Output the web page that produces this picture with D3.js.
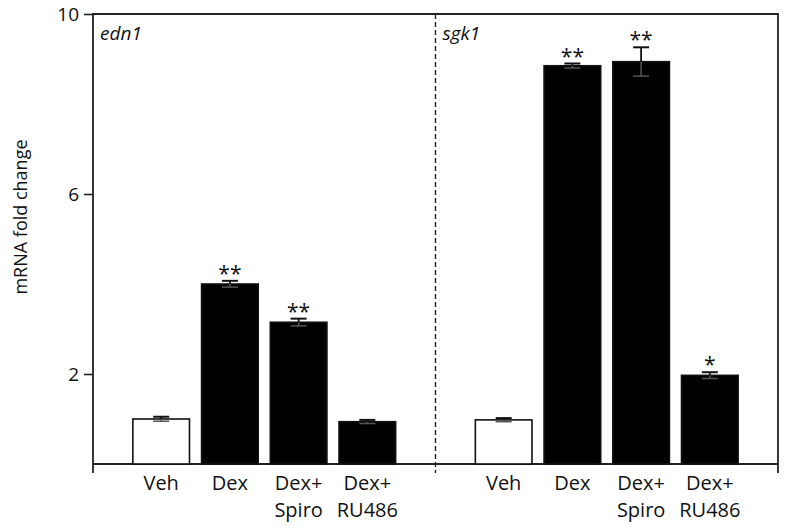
<!DOCTYPE html>
<html>
<head>
<meta charset="utf-8">
<script src="https://cdn.jsdelivr.net/npm/d3@7"></script>
<style>
  body { margin: 0; background: #fff; }
  text { font-family: "Open Sans", "Noto Sans", sans-serif; fill: #111; }
</style>
</head>
<body>
<svg id="chart_svg" width="785" height="530"></svg>
<script>
// chart values
const categories = ["Veh", "Dex", "Dex+ Spiro", "Dex+ RU486"];
const panels = ["edn1", "sgk1"];
const edn1Values = [1.0, 4.0, 3.15, 0.94];
const edn1Errors = [0.05, 0.07, 0.08, 0.04];
const edn1Stars = ["", "**", "**", ""];
const sgk1Values = [0.98, 8.85, 8.94, 1.97];
const sgk1Errors = [0.04, 0.05, 0.32, 0.07];
const sgk1Stars = ["", "**", "**", "*"];
const yTicks = [2, 6, 10];

const panelData = [
  {id: "edn1", values: edn1Values, errors: edn1Errors, stars: edn1Stars},
  {id: "sgk1", values: sgk1Values, errors: sgk1Errors, stars: sgk1Stars}
];

const svg = d3.select("#chart_svg"),
  margin = {top: 14, right: 7, bottom: 66, left: 93},
  width = 785 - margin.left - margin.right,
  height = 530 - margin.top - margin.bottom,
  g = svg.append("g").attr("transform", "translate(" + margin.left + "," + margin.top + ")");

const y = d3.scaleLinear().domain([0, 10]).range([height, 0]);
const xPanel = d3.scaleBand().domain(panels).range([0, width]);
const x = d3.scaleBand().domain(categories)
  .range([0, xPanel.bandwidth()])
  .paddingInner(0.176).paddingOuter(0.58);

// y axis
const yAxis = g.append("g")
  .call(d3.axisLeft(y).tickValues(yTicks).tickSize(9).tickPadding(5));
yAxis.select(".domain").remove();
yAxis.selectAll(".tick line").attr("stroke", "#222").attr("stroke-width", 1.6);
yAxis.selectAll(".tick text")
  .style("font-size", "19px")
  .style("font-family", "'Open Sans', sans-serif")
  .attr("fill", "#111");

// frame
const tickDown = 9;
g.append("path")
  .attr("d", "M0," + (height + tickDown) + "V0H" + width + "V" + (height + tickDown))
  .attr("fill", "none").attr("stroke", "#222").attr("stroke-width", 1.8);
g.append("line")
  .attr("x1", 0).attr("x2", width).attr("y1", height).attr("y2", height)
  .attr("stroke", "#222").attr("stroke-width", 1.8);
g.append("line")
  .attr("x1", xPanel("sgk1")).attr("x2", xPanel("sgk1"))
  .attr("y1", 0).attr("y2", height + tickDown)
  .attr("stroke", "#222").attr("stroke-width", 1.4)
  .attr("stroke-dasharray", "5,3");

// y label
svg.append("text")
  .attr("transform", "rotate(-90)")
  .attr("x", -217).attr("y", 27)
  .attr("text-anchor", "middle")
  .style("font-size", "18px")
  .text("mRNA fold change");

const panel = g.selectAll(".panel")
  .data(panelData)
  .enter().append("g")
    .attr("class", "panel")
    .attr("transform", (d) => "translate(" + xPanel(d.id) + ",0)");

panel.append("text")
  .attr("x", 7).attr("y", 26)
  .style("font-size", "19px")
  .style("font-style", "italic")
  .text((d) => d.id);

const bar = panel.selectAll(".bar")
  .data((d) => categories.map((c, i) => ({
    cat: c, i: i, value: d.values[i], err: d.errors[i], star: d.stars[i]
  })))
  .enter().append("g")
    .attr("class", "bar");

bar.append("rect")
  .attr("x", (d) => x(d.cat))
  .attr("y", (d) => y(d.value))
  .attr("width", x.bandwidth())
  .attr("height", (d) => height - y(d.value))
  .attr("fill", (d) => d.i === 0 ? "#fff" : "#000")
  .attr("stroke", "#111").attr("stroke-width", 1.6);

const cx = (d) => x(d.cat) + x.bandwidth() / 2;

// lower whisker shows faintly inside the bar
bar.append("line")
  .attr("x1", cx).attr("x2", cx)
  .attr("y1", (d) => y(d.value)).attr("y2", (d) => y(d.value - d.err))
  .attr("stroke", "#555").attr("stroke-width", 1.5);
bar.append("line")
  .attr("x1", (d) => cx(d) - 8).attr("x2", (d) => cx(d) + 8)
  .attr("y1", (d) => y(d.value - d.err)).attr("y2", (d) => y(d.value - d.err))
  .attr("stroke", "#555").attr("stroke-width", 1.5);

bar.append("line")
  .attr("x1", cx).attr("x2", cx)
  .attr("y1", (d) => y(d.value)).attr("y2", (d) => y(d.value + d.err))
  .attr("stroke", "#111").attr("stroke-width", 1.8);
bar.append("line")
  .attr("x1", (d) => cx(d) - 8).attr("x2", (d) => cx(d) + 8)
  .attr("y1", (d) => y(d.value + d.err)).attr("y2", (d) => y(d.value + d.err))
  .attr("stroke", "#111").attr("stroke-width", 2);

bar.append("text")
  .attr("x", cx)
  .attr("y", (d) => y(d.value + d.err))
  .attr("text-anchor", "middle")
  .style("font-size", "21px")
  .text((d) => d.star);

// category labels, split on the space after "+"
const lab = bar.append("text")
  .attr("text-anchor", "middle")
  .style("font-size", "20px");
lab.selectAll("tspan")
  .data((d) => d.cat.split(" ").map((t) => ({t: t, x: cx(d)})))
  .enter().append("tspan")
    .attr("x", (t) => t.x)
    .attr("y", (t, j) => height + 26 + j * 27)
    .text((t) => t.t);
</script>
</body>
</html>
